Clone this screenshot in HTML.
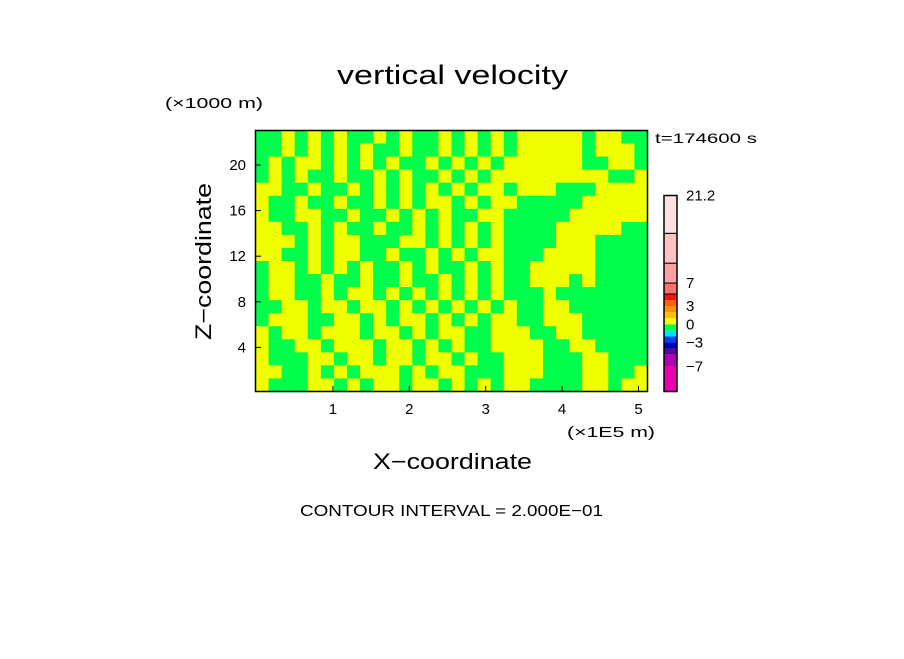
<!DOCTYPE html>
<html><head><meta charset="utf-8"><style>
body{margin:0;background:#fff;width:904px;height:654px;overflow:hidden;font-family:"Liberation Sans",sans-serif}
svg text{font-family:"Liberation Sans","DejaVu Sans",sans-serif;fill:#000}
</style></head><body>
<svg id="chart" width="904" height="654" xmlns="http://www.w3.org/2000/svg">
<text x="337" y="84" font-size="27" textLength="231" lengthAdjust="spacingAndGlyphs">vertical velocity</text>
<text x="165" y="108" font-size="15" textLength="98" lengthAdjust="spacingAndGlyphs">(×1000 m)</text>
<text x="655" y="143" font-size="14" textLength="102" lengthAdjust="spacingAndGlyphs">t=174600 s</text>
<g id="field"></g>
<rect x="255.5" y="130.5" width="392" height="261" fill="none" stroke="#000" stroke-width="1.5"/>
<g id="ticks"></g>
<text x="567" y="437" font-size="15" textLength="88" lengthAdjust="spacingAndGlyphs">(×1E5 m)</text>
<text x="373" y="469" font-size="22" textLength="159" lengthAdjust="spacingAndGlyphs">X−coordinate</text>
<text transform="translate(211,340) rotate(-90)" font-size="22" textLength="157" lengthAdjust="spacingAndGlyphs">Z−coordinate</text>
<text x="300" y="516" font-size="16" textLength="303" lengthAdjust="spacingAndGlyphs">CONTOUR INTERVAL = 2.000E−01</text>
<g id="cbar"></g>
</svg>
<script>
const xTicks=[1,2,3,4,5];
const zTicks=[4,8,12,16,20];
const cbLevels=[-10,-7,-5,-4,-3,-2,-1,0,1,2,3,4,5,7,10,14,21.2];
const cbColors=["#e800b0","#b000b0","#6000a0","#0000b0","#0040ff","#00e0ff","#00ff4c","#f0ff00","#ffc000","#ff9000","#ff6000","#ff1010","#ff7070","#ffa0a0","#ffc0c0","#ffe0e0"];
const cbLabels=[21.2,7,3,0,-3,-7];
const gridRows=[
"GGYGYGYGGYGYGGYGYGYGYYYYYGYYGG",
"GGYGYGYGYGGYGGYGYGYGYYYYYGYYYG",
"GYGYYGYGYGYGGYGYGYGYYYYYYGGYYG",
"GYGYGGYGGYGYGGYGYGYYYYYYYYYGGY",
"YYGGYGGYGYGYGYGYGYYGYYYGGGYYYY",
"YGGYGGYGGYGYGYYGYGYYGGGGGYYYYY",
"YGGYYGGYGGYGYGYGGYYGGGGGYYYYYY",
"YYGGYGYGGYGGYGYGYGYGGGGYYYYYGG",
"YYYGYGYYGGGYYGYGYGYGGGGYYYGGGG",
"YYGGYGYYGGYGGYGYGYYGGGYYYYGGGG",
"GYYGYGYGYGGYGYGGYGYGGYYYYYGGGG",
"GYYGGYGGYGGYGGYGYGYGGYYYGYGGGG",
"GYYGGYGYYGYGYGYGYGYGGGYGGGGGGG",
"GGYYGYYGYYGYGYGYGYGYGGYYGGGGGG",
"GYYYGGYYGYGYYGYGYGYYGGYYYGGGGG",
"YGYYGYYYGYYGYGYYGGYYYGGYYGGGGG",
"YGGYYGYYYGYYGYGYGGYYYYGGYYGGGG",
"YGGGYYGYYGYYGYYGYGGYYYGGGYYGGG",
"YYGGYGYGYYYGYGYYGGGYYYGGGYYGGY",
"YGGGYYGYGYYGYYGYGYGYYGGGGYYGYY"];
const NS="http://www.w3.org/2000/svg";
const X0=256.5,PX=76.4,Z0=393,PZ=11.4;
const xs=v=>X0+v*PX, zs=v=>Z0-v*PZ;
const L=255.5,T=130.5,W=392,H=261;
const field=document.getElementById('field');
const nr=gridRows.length,nc=gridRows[0].length;
gridRows.forEach((row,r)=>{
  for(let c=0;c<nc;c++){
    const e=document.createElementNS(NS,'rect');
    
    
    e.setAttribute('x',L+c*W/nc);e.setAttribute('y',T+r*H/nr);
    e.setAttribute('width',W/nc+0.6);e.setAttribute('height',H/nr+0.6);
    e.setAttribute('fill',row[c]==='Y'?'#f0ff00':'#00ff4c');
    field.appendChild(e);
  }
});
const tk=document.getElementById('ticks');
xTicks.forEach(v=>{
  const t=document.createElementNS(NS,'text');
  
  
  t.setAttribute('x',xs(v));t.setAttribute('y',414);t.setAttribute('font-size','15');t.setAttribute('text-anchor','middle');
  t.textContent=v;tk.appendChild(t);
  const l=document.createElementNS(NS,'line');
  
  
  l.setAttribute('x1',xs(v));l.setAttribute('x2',xs(v));l.setAttribute('y1',391);l.setAttribute('y2',386);l.setAttribute('stroke','#000');
  tk.appendChild(l);
});
zTicks.forEach(v=>{
  const t=document.createElementNS(NS,'text');
  
  
  t.setAttribute('x',246);t.setAttribute('y',zs(v)+5);t.setAttribute('font-size','15');t.setAttribute('text-anchor','end');
  t.textContent=v;tk.appendChild(t);
  const l=document.createElementNS(NS,'line');
  
  
  l.setAttribute('x1',256);l.setAttribute('x2',261);l.setAttribute('y1',zs(v));l.setAttribute('y2',zs(v));l.setAttribute('stroke','#000');
  tk.appendChild(l);
});
const cb=document.getElementById('cbar');
const cbTop=195.5,cbBot=391.5;
const segH=[25,12,6.1,6.1,6.1,6.1,6.1,6.1,6.1,6.1,6.1,6.1,11,20,30,38];
const total=segH.reduce((a,b)=>a+b,0);
let yb=cbBot;const bounds=[cbBot];
segH.forEach(h=>{yb-=h*(cbBot-cbTop)/total;bounds.push(yb);});
const levelY=v=>{for(let i=0;i<cbLevels.length-1;i++){if(v<=cbLevels[i+1]){const f=(v-cbLevels[i])/(cbLevels[i+1]-cbLevels[i]);return bounds[i]+(bounds[i+1]-bounds[i])*f;}}return cbTop;};
cbColors.forEach((col,i)=>{
  const e=document.createElementNS(NS,'rect');
  
  
  e.setAttribute('x',664);e.setAttribute('y',bounds[i+1]);e.setAttribute('width',13);e.setAttribute('height',bounds[i]-bounds[i+1]);
  e.setAttribute('fill',col);
  if(i>=12){e.setAttribute('stroke','#000');e.setAttribute('stroke-width','1');}
  cb.appendChild(e);
});
const fr=document.createElementNS(NS,'rect');


fr.setAttribute('x',664);fr.setAttribute('y',cbTop);fr.setAttribute('width',13);fr.setAttribute('height',cbBot-cbTop);fr.setAttribute('fill','none');fr.setAttribute('stroke','#000');fr.setAttribute('stroke-width','1.5');
cb.appendChild(fr);
cbLabels.forEach(v=>{
  const t=document.createElementNS(NS,'text');
  
  
  t.setAttribute('x',686);t.setAttribute('y',levelY(v)+5);t.setAttribute('font-size','15');
  t.textContent=(v<0?'−'+(-v):v);cb.appendChild(t);
});
</script>
</body></html>
